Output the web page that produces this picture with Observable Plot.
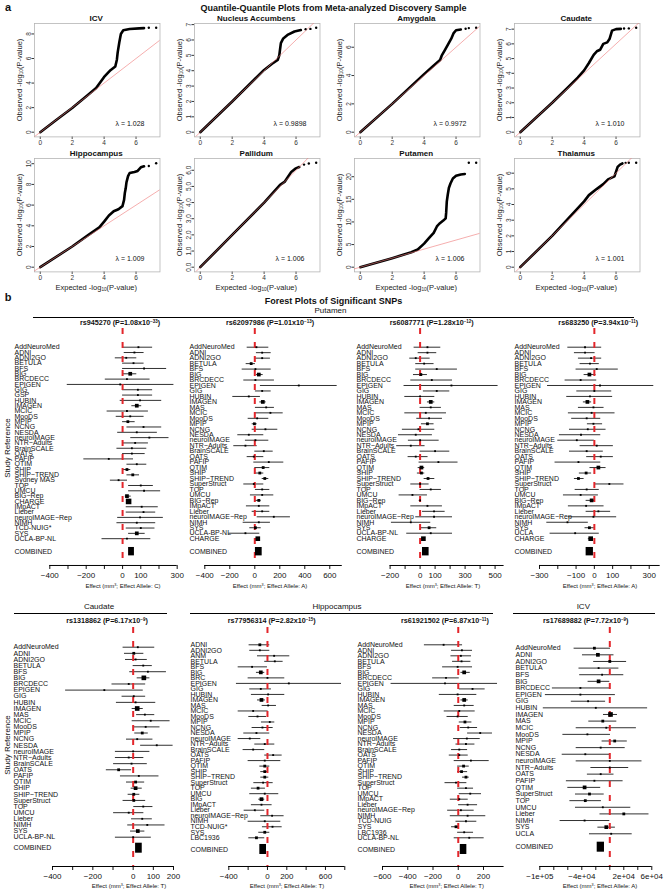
<!DOCTYPE html>
<html><head><meta charset="utf-8">
<script src="https://cdn.jsdelivr.net/npm/d3@7"></script>
<script src="https://cdn.jsdelivr.net/npm/@observablehq/plot@0.6"></script>
<style>
body{margin:0;background:#fff;}
#root{position:relative;width:667px;height:893px;overflow:hidden;background:#fff;font-family:"Liberation Sans",Arial,Helvetica,sans-serif;color:#111;}
.t{position:absolute;white-space:nowrap;line-height:1;}
.hl{position:absolute;height:0;border-top:1px solid #000;}
sup{font-size:0.62em;vertical-align:0.5em;line-height:0;}
sub{font-size:0.62em;vertical-align:-0.25em;line-height:0;}
</style></head><body><div id="root"></div>
<script>
// ---------------- QQ plot data ----------------
const qqNames = ["ICV","Nucleus Accumbens","Amygdala","Caudate","Hippocampus","Pallidum","Putamen","Thalamus"];
const qqLambdas = ["1.028","0.9898","0.9972","1.010","1.009","1.006","1.006","1.001"];
const qqYMaxes = [8.51, 6.8, 7.38, 7.1, 10.1, 6.47, 23.1, 6.67];
const qqYTicks = [[0,2,4,6,8],[0,1,2,3,4,5,6,7],[0,2,4,6],[0,1,2,3,4,5,6,7],[0,2,4,6,8,10],[0,1,2,3,4,5,6],[0,5,10,15,20],[0,1,2,3,4,5,6]];
const qqXTicks = [0,2,4,6];
const qqXDomain = [-0.36, 7.5];
const qqNullLine = [-1, 30];

const qqCurveICV = [[0,0],[1,1],[2,1.97],[3,3.05],[3.5,3.6],[4,4.5],[4.4,5.05],[4.7,5.35],[4.8,5.9],[4.85,6.5],[4.95,7.3],[5.05,8.0],[5.2,8.3],[5.6,8.4],[6.2,8.45],[6.5,8.47]];
const qqTailICV = [[6.8,8.5],[7.26,8.51]];
const qqCurveNA = [[0,0],[2,2],[4,4.05],[4.5,4.45],[4.85,4.7],[4.95,5.0],[5.0,5.4],[5.05,5.8],[5.2,6.1],[5.5,6.35],[5.9,6.55],[6.3,6.65]];
const qqTailNA = [[6.6,6.7],[6.9,6.72],[7.26,6.8]];
const qqCurveAmy = [[0,0],[2,2],[4,4.1],[4.5,4.6],[5.0,5.1],[5.1,5.4],[5.3,5.8],[5.5,6.2],[5.7,6.6],[5.85,7.0],[6.0,7.2],[6.3,7.25]];
const qqTailAmy = [[6.6,7.3],[6.8,7.35],[7.26,7.38]];
const qqCurveCau = [[0,0],[2,2],[3,3.05],[3.6,3.7],[4,4.2],[4.3,4.7],[4.6,5.25],[4.8,5.5],[5.0,5.6],[5.2,6.0],[5.45,6.1],[5.6,6.35],[5.75,6.9],[6.0,7.0],[6.3,7.02]];
const qqTailCau = [[6.5,7.04],[6.8,7.05],[7.26,7.1]];
const qqCurveHip = [[0,0],[2,2],[3,3.1],[3.7,3.85],[4.0,4.4],[4.3,5.0],[4.6,5.4],[4.9,5.6],[5.15,5.9],[5.25,6.5],[5.3,7.2],[5.35,7.6],[5.4,8.2],[5.5,8.8],[5.6,9.1],[5.9,9.2],[6.1,9.3],[6.3,9.65],[6.5,9.75]];
const qqTailHip = [[6.8,9.78],[7.26,10.05]];
const qqCurvePal = [[0,0],[2,2],[4,4],[5,5.1],[5.3,5.3],[5.5,5.6],[5.7,5.9],[5.95,6.1],[6.2,6.2]];
const qqTailPal = [[6.5,6.35],[6.8,6.42],[7.26,6.47]];
const qqCurvePut = [[0,0],[2,2],[3.2,3.3],[3.6,3.9],[4.0,5.2],[4.3,6.4],[4.6,7.6],[4.8,9.0],[4.95,9.6],[5.2,10.3],[5.35,10.8],[5.38,12],[5.42,14.5],[5.48,16],[5.55,17.5],[5.65,18.5],[5.8,19.6],[6.0,20.2],[6.3,20.5],[6.55,20.6]];
const qqTailPut = [[6.8,23.1],[7.26,23.1]];
const qqCurveTha = [[0,0],[2,2],[4,4.2],[4.3,4.6],[4.8,5.0],[5.2,5.3],[5.5,5.6],[5.9,5.8],[6.0,6.1],[6.1,6.4],[6.25,6.55],[6.4,6.62]];
const qqTailTha = [[6.6,6.66],[6.8,6.67],[7.26,6.67]];

// ---------------- Forest plot data: [study, effect, lower CI, upper CI, weight class] ----------------
const fp_rs945270 = [
["AddNeuroMed",87,0,165,1],["ADNI",65,9,118,1],["ADNI2GO",20,-40,78,1],["BETULA",60,0,118,1],["BFS",118,0,242,1],
["BIG",42,5,78,2],["BRCDECC",24,-95,151,1],["EPIGEN",-13,-304,282,1],["GIG",84,0,165,1],["GSP",84,0,165,1],
["HUBIN",96,-13,215,1],["IMAGEN",78,51,105,2],["MCIC",24,-85,142,1],["MooDS",42,-35,118,1],["MPIP",29,0,69,1.5],
["NCNG",115,24,215,1],["NESDA",78,-27,191,1],["neuroIMAGE",147,45,255,1],["NTR−Adults",69,0,142,1],["BrainSCALE",51,-31,133,1],
["OATS",51,0,124,1],["PAFIP",-76,-213,60,1],["QTIM",78,24,133,1],["SHIP",24,0,45,1.5],["SHIP−TREND",56,24,93,1.5],
["Sydney MAS",-22,-67,27,1],["TOP",100,33,169,1],["UMCU",118,33,209,1],["BIG−Rep",24,15,47,2],["CHARGE",33,22,44,3],
["IMpACT",105,20,196,1],["Lieber",115,20,182,1],["neuroIMAGE−Rep",96,-27,224,1],["NIMH",78,-31,182,1],["TCD-NUIG*",100,20,178,1],
["SYS",78,33,124,2],["UCLA-BP-NL",24,-113,155,1]];
const fpComb_rs945270 = [49,33,65];

const fp_rs62097986 = [
["AddNeuroMed",13,-61,112,1],["ADNI",59,13,131,1],["ADNI2GO",59,0,125,1],["BETULA",-29,-69,5,1.5],["BFS",5,-101,131,1],
["BIG",32,13,67,2],["BRCDECC",5,-88,157,1],["EPIGEN",352,45,659,1],["GIG",59,5,131,1],["HUBIN",-48,-176,45,1],
["IMAGEN",64,40,91,2],["MAS",91,5,157,1],["MCIC",125,5,227,1],["MooDS",19,-53,112,1],["MPIP",-3,-21,19,1.5],
["NCNG",85,-21,184,1],["NESDA",-48,-136,72,1],["neuroIMAGE",5,-75,112,1],["NTR−Adults",-75,-168,19,1],["BrainSCALE",72,0,147,1],
["OATS",-8,-61,72,1],["PAFIP",112,-8,232,1],["QTIM",67,0,120,1.5],["SHIP",40,5,72,1.5],["SHIP−TREND",80,59,112,1.5],
["SuperStruct",-8,-88,72,1],["TOP",59,5,120,1],["UMCU",59,-35,152,1],["BIG−Rep",32,5,51,1.5],["IMpACT",32,-67,120,1],
["Lieber",59,-21,120,1],["neuroIMAGE−Rep",152,19,285,1],["NIMH",32,-93,125,1],["SYS",5,-40,51,1.5],["UCLA-BP-NL",-75,-208,40,1],
["CHARGE",24,5,43,2.5]];
const fpComb_rs62097986 = [32,5,59];

const fp_rs6087771 = [
["AddNeuroMed",49,-40,138,1],["ADNI",49,-13,111,1],["ADNI2GO",-29,-69,67,1],["BETULA",27,-29,93,1],["BFS",111,-29,249,1],
["BIG",5,-44,49,1.5],["BRCDECC",78,-62,216,1],["EPIGEN",209,-107,520,1],["GIG",111,22,198,1],["HUBIN",0,-102,98,1],
["IMAGEN",71,49,98,2],["MAS",71,0,142,1],["MCIC",38,-102,176,1],["MooDS",60,-22,149,1],["MPIP",49,9,93,1.5],
["NCNG",-11,-118,98,1],["NESDA",-29,-144,82,1],["neuroIMAGE",0,-78,127,1],["NTR−Adults",-62,-156,33,1],["BrainSCALE",100,0,198,1],
["OATS",-29,-80,53,1],["PAFIP",122,-7,253,1],["QTIM",9,-13,31,2],["SHIP",9,-18,31,1.5],["SHIP−TREND",53,27,98,1.5],
["SuperStruct",0,-62,60,1],["TOP",71,0,142,1],["UMCU",-51,-140,49,1],["BIG−Rep",0,-6,6,1],["IMpACT",49,-62,149,1],
["Lieber",93,16,167,1],["neuroIMAGE−Rep",93,-29,216,1],["NIMH",-62,-191,71,1],["SYS",60,4,111,1.5],["UCLA-BP-NL",71,-89,216,1],
["CHARGE",22,10,34,2.5]];
const fpComb_rs6087771 = [38,16,60];

const fp_rs683250 = [
["AddNeuroMed",-51,-145,40,1],["ADNI",-51,-109,4,1],["ADNI2GO",-18,-87,40,1],["BETULA",-24,-78,27,1],["BFS",13,-100,131,1],
["BIG",-27,-56,9,2],["BRCDECC",-75,-160,13,1],["EPIGEN",31,-256,325,1],["GIG",0,-96,95,1],["HUBIN",-24,-151,100,1],
["IMAGEN",-38,-60,-15,2],["MAS",-5,-87,53,1],["MCIC",-15,-142,113,1],["MooDS",-42,-124,35,1],["MPIP",-5,-38,45,1],
["NCNG",-36,-136,64,1],["NESDA",-73,-191,35,1],["neuroIMAGE",-96,-200,0,1],["NTR−Adults",13,-78,104,1],["BrainSCALE",-42,-136,49,1],
["OATS",35,-42,104,1],["PAFIP",-87,-215,35,1],["QTIM",22,-24,64,2],["SHIP",-45,-82,-15,1.5],["SHIP−TREND",-87,-109,-56,1.5],
["SuperStruct",82,4,162,1],["TOP",-42,-105,27,1],["UMCU",-75,-169,22,1],["BIG−Rep",-15,-45,4,2],["IMpACT",-45,-142,53,1],
["Lieber",22,-45,89,1],["neuroIMAGE−Rep",-5,-142,122,1],["NIMH",-147,-260,-33,1],["SYS",-27,-51,0,1.5],["UCLA",-105,-242,27,1],
["CHARGE",-20,-33,-7,2.5]];
const fpComb_rs683250 = [-27,-45,-5];

const fp_rs1318862 = [
["AddNeuroMed",23,-50,107,1],["ADNI",3,-43,53,1.5],["ADNI2GO",12,-38,70,1],["BETULA",50,0,95,1],["BFS",73,-17,165,1],
["BIG",53,20,83,2.5],["BRCDECC",-22,-105,62,1],["EPIGEN",-143,-335,50,1],["GIG",3,-55,62,1],["HUBIN",12,-83,112,1],
["IMAGEN",20,-5,50,2.5],["MAS",58,17,107,1],["MCIC",87,-5,183,1],["MooDS",62,0,133,1],["MPIP",45,8,75,1.5],
["NCNG",20,-33,98,1],["NESDA",117,37,198,1],["neuroIMAGE",0,-88,83,1],["NTR−Adults",-22,-88,53,1],["BrainSCALE",-8,-97,70,1],
["OATS",-72,-133,-8,1.5],["PAFIP",28,-63,128,1],["QTIM",12,-33,57,1.5],["SHIP",12,-10,45,2],["SHIP−TREND",3,-25,33,1.5],
["SuperStruct",3,-50,62,1.5],["TOP",50,3,98,1],["UMCU",-22,-97,53,1],["Lieber",45,-8,95,1],["NIMH",70,-27,158,1],
["SYS",23,-13,58,2],["UCLA-BP-NL",0,-88,90,1]];
const fpComb_rs1318862 = [28,12,45];

const fp_rs77956314 = [
["ADNI",-79,-190,24,1.5],["ADNI2GO",-79,-183,24,1],["ANM",69,-103,231,1],["BETULA",76,-28,162,1],["BFS",-159,-303,0,1],
["BIG",-69,-114,-28,2],["BRC",0,-200,179,1],["EPIGEN",221,-321,766,1],["GIG",-69,-183,41,1],["HUBIN",7,-166,179,1],
["IMAGEN",-62,-103,-21,2],["MAS",7,-55,93,1],["MCIC",-148,-303,7,1],["MooDS",-103,-193,-10,1],["MPIP",24,-62,76,1],
["NCNG",-52,-159,59,1],["NESDA",-114,-245,24,1],["neuroIMAGE",-183,-303,-69,1],["NTR−Adults",-28,-131,76,1],["BrainSCALE",-148,-252,-28,1],
["OATS",59,-28,152,1],["PAFIP",-28,-200,138,1],["QTIM",-28,-79,24,1.5],["SHIP",-28,-69,7,1.5],["SHIP−TREND",-28,-69,14,1.5],
["SuperStruct",-45,-141,59,1],["TOP",-97,-166,-21,1.5],["UMCU",-28,-183,117,1],["BIG",-62,-90,-28,2],["IMpACT",-62,-166,48,1],
["Lieber",-131,-241,-28,1],["neuroIMAGE−Rep",48,-69,172,1],["NIMH",-28,-200,138,1],["TCD-NUIG*",52,-52,152,1],["SYS",-28,-90,24,1.5],
["LBC1936",-114,-193,-28,1.5]];
const fpComb_rs77956314 = [-45,-79,-10];

const fp_rs61921502 = [
["AddNeuroMed",-116,-268,34,1],["ADNI",29,-53,113,1],["ADNI2GO",21,-58,105,1],["BETULA",26,-45,100,1],["BFS",-5,-124,113,1],
["BIG",47,21,95,2],["BRCDECC",-97,-203,8,1],["EPIGEN",-105,-532,311,1],["GIG",113,8,213,1],["HUBIN",-5,-150,147,1],
["IMAGEN",47,21,79,2],["MAS",47,-32,126,1],["MCIC",8,-111,134,1],["MooDS",-5,-89,79,1],["MPIP",53,8,108,1.5],
["NCNG",79,16,153,1],["NESDA",174,74,271,1],["neuroIMAGE",68,-37,174,1],["NTR−Adults",61,-18,132,1],["BrainSCALE",8,-53,74,1],
["OATS",8,-71,79,1],["PAFIP",100,-32,245,1],["QTIM",42,-5,87,1.5],["SHIP",26,-5,74,1.5],["SHIP−TREND",61,34,87,1.5],
["SuperStruct",-18,-105,68,1],["TOP",61,-5,121,1],["UMCU",95,8,184,1],["IMpACT",8,-63,79,1],["Lieber",74,3,153,1],
["neuroIMAGE−Rep",21,-84,126,1],["NIMH",74,-63,218,1],["TCD-NUIG",61,-18,147,1],["SYS",-18,-53,8,1.5],["LBC1936",47,-5,121,1],
["UCLA-BP-NL",87,-32,205,1]];
const fpComb_rs61921502 = [42,16,68];

const fp_rs17689882 = [
["AddNeuroMed",-22000,-51000,1000,1.5],["ADNI",-17000,-39000,6000,2],["ADNI2GO",0,-23000,24000,1.5],["BETULA",-16000,-44000,13000,1],
["BFS",-11000,-43000,20000,1],["BIG",-16000,-31000,0,2],["BRCDECC",-42000,-82000,0,1],["EPIGEN",-42000,-92000,8000,1],
["GIG",-31000,-55000,-6000,1],["HUBIN",-20000,-95000,54000,1],["IMAGEN",1000,-9000,11000,2.5],["MAS",-10000,-30000,10000,1.5],
["MCIC",-5000,-48000,38000,1],["MooDS",-32000,-67000,1000,1],["MPIP",7000,-11000,25000,1.5],["NCNG",-13000,-48000,22000,1],
["NESDA",-35000,-68000,0,1],["neuroIMAGE",0,-48000,46000,1],["NTR−Adults",0,-27000,27000,1],["OATS",-13000,-32000,6000,1],
["PAFIP",-22000,-62000,19000,1],["QTIM",-36000,-60000,-13000,2],["SuperStruct",-29000,-49000,-8000,1.5],["TOP",-35000,-57000,-12000,1.5],
["UMCU",-10000,-49000,30000,1],["Lieber",20000,-14000,56000,1.5],["NIMH",-36000,-71000,0,1],["SYS",-5000,-17000,8000,2],
["UCLA",2000,-29000,32000,1]];
const fpComb_rs17689882 = [-13000,-18000,-7600];

// axis ticks and labels
const fpTicks_rs945270 = [-400,-300,-200,-100,0,100,200,300];
const fpTickText_rs945270 = ["−400","","−200","","0","100","","300"];
const fpTicks_rs62097986 = [-400,-200,0,200,400,600];
const fpTickText_rs62097986 = ["−400","−200","0","200","400","600"];
const fpTicks_rs6087771 = [-200,-100,0,100,200,300,400,500];
const fpTickText_rs6087771 = ["−200","","0","100","","300","","500"];
const fpTicks_rs683250 = [-300,-200,-100,0,100,200,300];
const fpTickText_rs683250 = ["−300","","−100","0","100","","300"];
const fpTicks_rs1318862 = [-400,-300,-200,-100,0,100,200];
const fpTickText_rs1318862 = ["−400","","−200","","0","100","200"];
const fpTicks_rs77956314 = [-400,-200,0,200,400,600,800];
const fpTickText_rs77956314 = ["−400","","0","200","","600",""];
const fpTicks_rs61921502 = [-600,-400,-200,0,200];
const fpTickText_rs61921502 = ["−600","−400","−200","0","200"];
const fpTicks_rs17689882 = [-100000,-80000,-60000,-40000,-20000,0,20000,40000,60000];
const fpTickText_rs17689882 = ["−1e+05","","","−4e+04","","","2e+04","","6e+04"];

// ---------------- helpers ----------------
const FONT = '"Liberation Sans", Arial, Helvetica, sans-serif';
const root = document.getElementById("root");
function txt(html, x, y, o = {}) {
  const {size = 8, bold = false, anchor = "middle", rotate = 0, color = "#111"} = o;
  const d = document.createElement("div");
  d.className = "t";
  d.innerHTML = html;
  Object.assign(d.style, {left: x + "px", top: y + "px", fontSize: size + "px", fontWeight: bold ? "bold" : "normal", color});
  const tx = anchor === "middle" ? "-50%" : anchor === "end" ? "-100%" : "0";
  d.style.transform = `translate(${tx},-50%)` + (rotate ? ` rotate(${rotate}deg)` : "");
  root.appendChild(d);
}
function hline(x1, x2, y) {
  const d = document.createElement("div");
  d.className = "hl";
  Object.assign(d.style, {left: x1 + "px", top: y + "px", width: (x2 - x1) + "px"});
  root.appendChild(d);
}
function place(svg, left, top) {
  Object.assign(svg.style, {position: "absolute", left: left + "px", top: top + "px", background: "transparent", overflow: "visible"});
  root.appendChild(svg);
}

// ---------------- Panel a: QQ plots ----------------
const qqCurves = [qqCurveICV, qqCurveNA, qqCurveAmy, qqCurveCau, qqCurveHip, qqCurvePal, qqCurvePut, qqCurveTha];
const qqTails = [qqTailICV, qqTailNA, qqTailAmy, qqTailCau, qqTailHip, qqTailPal, qqTailPut, qqTailTha];
const qqW = 125.5, qqH = 113.4;

txt("a", 8, 7, {size: 11, bold: true});
txt("Quantile-Quantile Plots from Meta-analyzed Discovery Sample", 333.5, 8, {size: 9, bold: true});

qqNames.forEach((name, i) => {
  const col = i % 4, row = Math.floor(i / 4);
  const fl = 33.5 + 160 * col, ft = 23.3 + 135 * row;
  const mL = 30, mT = 10, mR = 6, mB = 16;
  const ymax = qqYMaxes[i];
  const svg = Plot.plot({
    width: mL + qqW + mR, height: mT + qqH + mB,
    marginLeft: mL, marginTop: mT, marginRight: mR, marginBottom: mB,
    style: {fontFamily: FONT, fontSize: "6.5px", color: "#333"},
    x: {domain: qqXDomain, ticks: qqXTicks, tickSize: 2.5, tickPadding: 1, label: null},
    y: {domain: [-0.045 * ymax, 1.04 * ymax], ticks: qqYTicks[i], tickSize: 2.5, tickPadding: 1.5, tickRotate: -90, label: null},
    marks: [
      Plot.frame({stroke: "#b5b5b5", strokeWidth: 0.8}),
      Plot.line(qqCurves[i], {stroke: "#000", strokeWidth: 2.6, strokeLinejoin: "round", strokeLinecap: "round"}),
      Plot.dot(qqTails[i], {r: 1.2, fill: "#000", stroke: null}),
      Plot.line(qqNullLine, {x: d => d, y: d => d, stroke: "#ee7777", strokeWidth: 0.6, clip: true}),
      Plot.text([qqLambdas[i]], {frameAnchor: "bottom-right", dx: -30, dy: -11, text: d => "λ = " + d, fontSize: 7, textAnchor: "middle", fill: "#111"})
    ]
  });
  place(svg, fl - mL, ft - mT);
  txt(name, fl + qqW / 2, ft - 4.5, {size: 8, bold: true});
  txt("Observed -log<sub>10</sub>(P-value)", fl - 14, ft + qqH / 2, {size: 7.5, rotate: -90, color: "#222"});
  if (row === 1) txt("Expected -log<sub>10</sub>(P-value)", fl + qqW / 2, 288, {size: 7.5, color: "#222"});
});

// ---------------- Panel b: forest plots ----------------
txt("b", 8, 297, {size: 11, bold: true});
txt("Forest Plots of Significant SNPs", 333.5, 300.5, {size: 9, bold: true});
txt("Putamen", 330.5, 310.7, {size: 8});
hline(33, 634, 317);
txt("Caudate", 99, 606.7, {size: 8});
hline(14, 167, 612.7);
txt("Hippocampus", 337, 606.7, {size: 8});
hline(190, 493, 612.7);
txt("ICV", 583.3, 606.7, {size: 8});
hline(513, 655, 612.7);
txt("Study Reference", 7.5, 448, {size: 8, rotate: -90});
txt("Study Reference", 7.5, 745, {size: 8, rotate: -90});

function forest(c) {
  const N = c.rows.length;
  const sp = (c.rowLast - c.rowFirst) / (N - 1);
  const yTop = -(c.rowFirst - c.frameTop) / sp;
  const yBot = (N - 1) + (c.frameBottom - c.rowLast) / sp;
  const combY = (N - 1) + c.combGap / sp;
  const hh = c.combHalf / sp;
  const svgLeft = c.labelX - 2;
  const mL = c.axisStart - svgLeft, mR = 20, mT = 6, mB = 18;
  const width = c.axisEnd - svgLeft + mR;
  const height = c.frameBottom - c.frameTop + mT + mB;
  const data = c.rows.map((r, i) => ({name: r[0], est: r[1], lo: r[2], hi: r[3], size: r[4], i}));
  const sizes = [...new Set(data.map(d => d.size))];
  const tickMap = new Map(c.ticks.map((t, k) => [t, c.tickText[k]]));
  const svg = Plot.plot({
    width, height, marginLeft: mL, marginRight: mR, marginTop: mT, marginBottom: mB,
    style: {fontFamily: FONT, fontSize: "8px", color: "#111"},
    x: {domain: c.domain, ticks: c.ticks, tickFormat: d => tickMap.get(d) ?? "", tickSize: 4, tickPadding: 3, label: null},
    y: {type: "linear", domain: [yBot, yTop], axis: null},
    marks: [
      Plot.ruleY(data, {y: "i", x1: "lo", x2: "hi", stroke: "#1a1a1a", strokeWidth: 0.9}),
      Plot.ruleX([0], {stroke: "#e3262b", strokeWidth: 2, strokeDasharray: "6,8"}),
      ...sizes.map(s => Plot.dot(data.filter(d => d.size === s), {x: "est", y: "i", r: s * 1.05, symbol: "square", fill: "#000", stroke: null})),
      Plot.rect([c.comb], {x1: d => d[1], x2: d => d[2], y1: () => combY - hh, y2: () => combY + hh, fill: "#000"}),
      Plot.ruleY([yBot], {stroke: "#000", strokeWidth: 1}),
      Plot.text(data, {y: "i", text: "name", frameAnchor: "left", dx: c.labelX - c.axisStart, textAnchor: "start", fontSize: 7, fill: "#111"}),
      Plot.text(["COMBINED"], {y: () => combY, text: d => d, frameAnchor: "left", dx: c.labelX - c.axisStart, textAnchor: "start", fontSize: 7, fill: "#111"})
    ]
  });
  place(svg, svgLeft, c.frameTop - mT);
  txt(c.title, c.titleX, c.titleY, {size: 7.2, bold: true});
  txt("Effect (mm<sup>3</sup>; Effect Allele: " + c.allele + ")", c.axisTitleX, c.axisTitleY, {size: 6});
}

const topRow = {frameTop: 328, frameBottom: 565, rowFirst: 346.7, rowLast: 538.2, combGap: 13, combHalf: 4.2, titleY: 323, axisTitleY: 585.7};
const botRow = {frameTop: 627, frameBottom: 866, combHalf: 5, titleY: 620.7, axisTitleY: 885.7};

forest({...topRow, rows: fp_rs945270, comb: fpComb_rs945270, ticks: fpTicks_rs945270, tickText: fpTickText_rs945270,
  domain: [-400, 300], axisStart: 49.3, axisEnd: 176.7, labelX: 14,
  title: "rs945270 (P=1.08x10<sup>−33</sup>)", titleX: 120, allele: "C", axisTitleX: 123});
forest({...topRow, rows: fp_rs62097986, comb: fpComb_rs62097986, ticks: fpTicks_rs62097986, tickText: fpTickText_rs62097986,
  domain: [-400, 700], axisStart: 204.3, axisEnd: 341.8, labelX: 189,
  title: "rs62097986 (P=1.01x10<sup>−13</sup>)", titleX: 270, allele: "A", axisTitleX: 270});
forest({...topRow, rows: fp_rs6087771, comb: fpComb_rs6087771, ticks: fpTicks_rs6087771, tickText: fpTickText_rs6087771,
  domain: [-200, 560], axisStart: 389.3, axisEnd: 503.3, labelX: 355.7,
  title: "rs6087771 (P=1.28x10<sup>−12</sup>)", titleX: 431.7, allele: "T", axisTitleX: 443});
forest({...topRow, rows: fp_rs683250, comb: fpComb_rs683250, ticks: fpTicks_rs683250, tickText: fpTickText_rs683250,
  domain: [-300, 360], axisStart: 539.3, axisEnd: 660, labelX: 514.3,
  title: "rs683250 (P=3.94x10<sup>−11</sup>)", titleX: 598.3, allele: "A", axisTitleX: 600});

forest({...botRow, rows: fp_rs1318862, comb: fpComb_rs1318862, ticks: fpTicks_rs1318862, tickText: fpTickText_rs1318862,
  rowFirst: 646.7, rowLast: 836.7, combGap: 11,
  domain: [-400, 200], axisStart: 51.7, axisEnd: 172.7, labelX: 12.7,
  title: "rs1318862 (P=6.17x10<sup>−9</sup>)", titleX: 107, allele: "T", axisTitleX: 129});
forest({...botRow, rows: fp_rs77956314, comb: fpComb_rs77956314, ticks: fpTicks_rs77956314, tickText: fpTickText_rs77956314,
  rowFirst: 644.3, rowLast: 837.3, combGap: 11.7,
  domain: [-400, 800], axisStart: 228.3, axisEnd: 344.3, labelX: 190,
  title: "rs77956314 (P=2.82x10<sup>−15</sup>)", titleX: 271.7, allele: "T", axisTitleX: 287});
forest({...botRow, rows: fp_rs61921502, comb: fpComb_rs61921502, ticks: fpTicks_rs61921502, tickText: fpTickText_rs61921502,
  rowFirst: 644.3, rowLast: 837.3, combGap: 11.7,
  domain: [-600, 363], axisStart: 381.7, axisEnd: 503.3, labelX: 356.7,
  title: "rs61921502 (P=6.87x10<sup>−11</sup>)", titleX: 445, allele: "T", axisTitleX: 446.7});
forest({...botRow, rows: fp_rs17689882, comb: fpComb_rs17689882, ticks: fpTicks_rs17689882, tickText: fpTickText_rs17689882,
  rowFirst: 647.7, rowLast: 833.3, combGap: 13.4,
  domain: [-100000, 60000], axisStart: 539.3, axisEnd: 651.3, labelX: 515,
  title: "rs17689882 (P=7.72x10<sup>−9</sup>)", titleX: 585.7, allele: "A", axisTitleX: 600});
</script></body></html>
